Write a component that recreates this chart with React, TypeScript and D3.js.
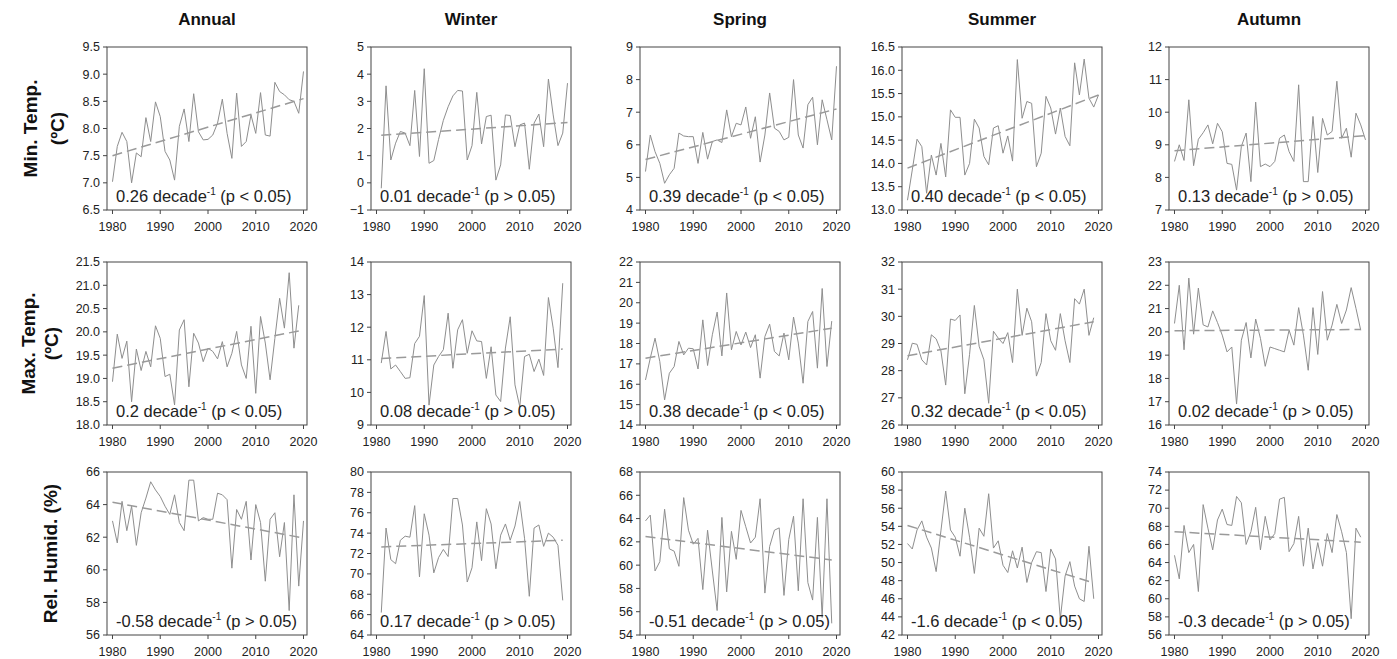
import React from 'react';
import * as d3 from 'd3';

const columnTitles = ['Annual', 'Winter', 'Spring', 'Summer', 'Autumn'];
const rowTitles: string[][] = [['Min. Temp.', '(ºC)'], ['Max. Temp.', '(ºC)'], ['Rel. Humid. (%)']];
const xTicks = [1980, 1990, 2000, 2010, 2020];

// Row 1: minimum temperature
const minAnnual = [7.02,7.67,7.93,7.76,7.0,7.55,7.48,8.2,7.76,8.49,8.22,7.58,7.42,7.05,8.04,8.36,7.76,8.64,7.94,7.79,7.8,7.88,8.1,8.54,7.91,7.45,8.65,7.67,7.76,8.25,7.91,8.66,7.88,7.86,8.85,8.68,8.62,8.53,8.5,8.28,9.05];
const minWinter = [-0.2,3.57,0.84,1.46,1.89,1.83,1.37,3.4,0.97,4.2,0.72,0.82,1.6,2.3,2.8,3.2,3.4,3.38,0.84,1.37,3.33,1.43,2.44,2.49,0.1,0.66,2.5,2.48,1.33,2.13,2.2,0.5,2.2,2.53,1.33,3.82,2.5,1.37,1.83,3.67];
const minSpring = [5.18,6.3,5.79,5.43,4.82,5.08,5.28,6.36,6.27,6.25,6.25,5.43,6.38,5.56,6.1,6.15,6.07,7.07,6.25,6.66,6.61,7.16,6.2,6.86,5.47,6.3,7.59,6.51,6.41,6.15,6.23,8.0,6.3,5.9,7.23,7.46,6.0,7.38,6.77,6.15,8.41];
const minSummer = [13.21,13.86,14.52,14.36,13.36,14.18,13.75,14.43,13.71,15.15,14.99,14.99,13.75,14.0,14.95,14.76,14.15,13.97,14.76,14.81,14.22,14.59,14.05,16.23,14.97,15.33,15.29,13.93,14.22,15.44,15.19,14.63,15.19,14.58,14.38,16.16,15.47,16.24,15.4,15.21,15.47];
const minAutumn = [8.49,9.0,8.52,10.38,8.36,9.17,9.37,9.61,9.03,9.66,9.4,8.43,8.4,7.61,8.95,9.36,7.87,10.31,8.33,8.41,8.33,8.49,9.2,9.3,8.79,8.49,10.84,7.87,7.87,9.87,8.15,9.81,9.3,9.41,10.95,9.2,9.51,8.62,9.97,9.61,9.15];

// Row 2: maximum temperature
const maxAnnual = [18.93,19.95,19.43,19.8,18.5,19.63,19.17,19.58,19.25,20.13,19.86,19.04,19.09,18.43,20.04,20.26,18.82,19.97,19.76,19.36,19.65,19.58,19.42,19.79,19.25,19.54,20.01,19.29,19.0,20.12,18.68,20.33,19.76,18.97,19.86,20.72,20.08,21.27,19.65,20.57];
const maxWinter = [10.9,11.87,10.72,10.84,10.64,10.43,10.45,11.5,11.72,12.97,9.61,10.84,11.1,11.31,12.43,10.74,11.92,12.23,11.2,11.89,11.58,11.56,10.43,11.4,9.92,9.72,11.36,12.32,10.23,9.56,11.1,11.17,10.64,11.02,10.52,12.91,11.97,10.76,13.35];
const maxSpring = [16.21,17.28,18.26,17.11,15.23,16.54,16.87,18.1,17.44,17.77,17.74,16.75,19.16,16.92,18.43,19.54,17.39,20.48,17.69,18.59,17.93,18.56,17.8,18.43,16.3,18.34,18.95,17.61,17.39,18.51,17.2,19.3,18.02,16.05,19.08,19.57,16.79,20.7,16.87,19.1];
const maxSummer = [28.4,29.01,28.97,28.4,28.21,29.32,29.17,28.73,27.47,29.9,29.85,30.05,27.15,28.6,30.4,28.9,28.4,26.8,29.45,29.2,29.0,29.4,28.3,31.0,29.3,30.3,29.8,27.8,28.3,30.1,29.1,28.75,30.1,29.1,28.3,30.65,30.45,31.0,29.3,29.95];
const maxAutumn = [20.36,22.0,19.23,22.31,19.9,21.88,20.3,20.21,20.9,20.4,19.86,19.14,19.35,16.9,19.64,20.4,18.88,20.55,19.72,18.52,19.35,19.28,19.21,19.14,20.07,19.43,21.04,19.86,18.35,21.04,19.03,21.73,19.64,20.29,21.18,20.36,20.94,21.9,21.01,20.07];

// Row 3: relative humidity
const rhAnnual = [63.0,61.65,64.2,62.4,63.9,61.5,63.5,64.4,65.4,64.9,64.5,63.9,63.4,64.6,62.9,62.4,65.5,65.5,63.0,63.2,63.1,63.1,64.7,64.6,64.3,60.1,63.7,63.1,64.2,60.6,64.0,62.9,59.3,63.1,63.5,60.8,62.9,57.5,64.6,59.0,63.0];
const rhWinter = [66.2,74.5,71.4,71.0,73.3,73.7,73.6,76.7,69.7,75.9,73.8,70.1,71.6,72.4,71.7,77.4,77.4,74.8,69.2,70.6,75.1,71.3,76.4,74.9,70.5,73.8,74.9,73.3,74.7,77.1,73.5,67.8,74.5,74.8,72.7,74.0,73.6,72.8,67.4];
const rhSpring = [63.8,64.3,59.5,60.3,64.8,61.4,61.2,59.9,65.8,63.0,61.8,62.3,57.9,63.0,59.5,56.1,64.1,57.7,62.9,60.5,64.7,63.3,61.9,62.4,65.7,57.6,61.6,63.0,63.2,57.4,62.2,64.2,57.8,65.7,58.5,57.0,64.1,55.5,65.7,55.0];
const rhSummer = [52.1,51.5,53.6,54.6,52.8,51.6,49.0,53.5,57.9,53.6,52.8,50.7,56.0,52.8,48.8,53.8,52.9,57.6,51.6,52.4,49.7,48.9,51.3,49.4,51.7,47.8,50.0,51.2,51.1,46.8,51.5,50.4,43.8,48.5,50.1,47.4,46.0,45.7,51.8,46.0];
const rhAutumn = [64.8,62.2,68.1,65.1,66.0,60.8,70.4,67.8,65.4,68.7,69.9,68.2,68.1,71.3,70.6,66.0,67.4,70.1,65.4,69.1,66.5,67.2,71.0,71.2,65.2,66.1,69.1,63.6,67.8,63.3,66.2,63.6,67.2,65.1,69.3,67.4,65.1,57.8,67.8,66.8];

// first year of each series
const startYears = [
  [1980, 1981, 1980, 1980, 1980],
  [1980, 1981, 1980, 1980, 1980],
  [1980, 1981, 1980, 1980, 1980],
];
const series = [
  [minAnnual, minWinter, minSpring, minSummer, minAutumn],
  [maxAnnual, maxWinter, maxSpring, maxSummer, maxAutumn],
  [rhAnnual, rhWinter, rhSpring, rhSummer, rhAutumn],
];
// trend line value at first and last year
const trends = [
  [[7.5, 8.55], [1.75, 2.22], [5.55, 7.1], [13.9, 15.47], [8.82, 9.28]],
  [[19.22, 20.02], [11.04, 11.33], [17.28, 18.75], [28.55, 29.8], [20.05, 20.1]],
  [[64.15, 61.95], [72.65, 73.3], [62.45, 60.45], [54.1, 47.75], [67.4, 66.25]],
];
const trendLabels = [
  [['0.26', '<'], ['0.01', '>'], ['0.39', '<'], ['0.40', '<'], ['0.13', '>']],
  [['0.2', '<'], ['0.08', '>'], ['0.38', '<'], ['0.32', '<'], ['0.02', '>']],
  [['-0.58', '>'], ['0.17', '>'], ['-0.51', '>'], ['-1.6', '<'], ['-0.3', '>']],
];
const yDomains = [
  [[6.5, 9.5], [-1, 5], [4, 9], [13, 16.5], [7, 12]],
  [[18, 21.5], [9, 14], [14, 22], [26, 32], [16, 23]],
  [[56, 66], [64, 80], [54, 68], [42, 60], [56, 74]],
];
const yTickSteps = [
  [0.5, 1, 1, 0.5, 1],
  [0.5, 1, 1, 1, 1],
  [2, 2, 2, 2, 2],
];

const colLefts = [107, 371, 640, 902, 1169];
const rowTops = [47, 262, 472];
const PW = 200;
const PH = 163;
const FONT = 'Arial, "Liberation Sans", sans-serif';

function Panel({ r, c }: { r: number; c: number }) {
  const left = colLefts[c];
  const top = rowTops[r];
  const x = d3.scaleLinear().domain([1978.85, 2020.73]).range([left, left + PW]);
  const [lo, hi] = yDomains[r][c];
  const y = d3.scaleLinear().domain([lo, hi]).range([top + PH, top]);
  const step = yTickSteps[r][c];
  const ticks = d3.range(lo, hi + step / 2, step);
  const fmt = step < 1 ? d3.format('.1f') : d3.format('d');
  const vals = series[r][c];
  const start = startYears[r][c];
  const pts: [number, number][] = vals.map((v, i) => [start + i, v]);
  const line = d3.line<[number, number]>().x(d => x(d[0])).y(d => y(d[1]));
  const last = start + vals.length - 1;
  const [t0, t1] = trends[r][c];
  const [slope, sign] = trendLabels[r][c];
  return (
    <g>
      <path d={line(pts) || ''} fill="none" stroke="#8e8e8e" strokeWidth={1} />
      <line x1={x(start)} x2={x(last)} y1={y(t0)} y2={y(t1)} stroke="#9a9a9a" strokeWidth={1.5} strokeDasharray="10,5" />
      <rect x={left} y={top} width={PW} height={PH} fill="none" stroke="#444" strokeWidth={1} />
      {ticks.map(t => (
        <g key={t}>
          <line x1={left - 4} x2={left} y1={y(t)} y2={y(t)} stroke="#444" />
          <text x={left - 7} y={y(t)} dy="0.35em" textAnchor="end" fontSize={12.5} fill="#222" fontFamily={FONT}>{fmt(t)}</text>
        </g>
      ))}
      {xTicks.map(t => (
        <g key={t}>
          <line x1={x(t)} x2={x(t)} y1={top + PH} y2={top + PH + 4} stroke="#444" />
          <text x={x(t)} y={top + PH + 21} textAnchor="middle" fontSize={12.5} fill="#222" fontFamily={FONT}>{t}</text>
        </g>
      ))}
      <text x={left + 9} y={top + PH - 8} fontSize={16.5} fill="#222" fontFamily={FONT}>
        {slope} decade
        <tspan dy={-7} fontSize={10}>-1</tspan>
        <tspan dy={7}> (p {sign} 0.05)</tspan>
      </text>
    </g>
  );
}

export default function App() {
  const rowLabelX = [[30, 57], [28, 51], [50]];
  return (
    <svg width={1397} height={659} style={{ position: 'absolute', left: 0, top: 0, background: '#fff' }}>
      {columnTitles.map((t, c) => (
        <text key={t} x={colLefts[c] + PW / 2} y={25} textAnchor="middle" fontSize={17} fontWeight="bold" fill="#111" fontFamily={FONT}>{t}</text>
      ))}
      {rowTitles.map((lines, r) => {
        const cy = rowTops[r] + PH / 2;
        return lines.map((ln, k) => (
          <text key={r + '-' + k} transform={`translate(${rowLabelX[r][k]},${cy}) rotate(-90)`} textAnchor="middle" dy="0.35em" fontSize={19} fontWeight="bold" fill="#111" fontFamily={FONT}>{ln}</text>
        ));
      })}
      {[0, 1, 2].map(r => [0, 1, 2, 3, 4].map(c => <Panel key={r + '_' + c} r={r} c={c} />))}
    </svg>
  );
}
